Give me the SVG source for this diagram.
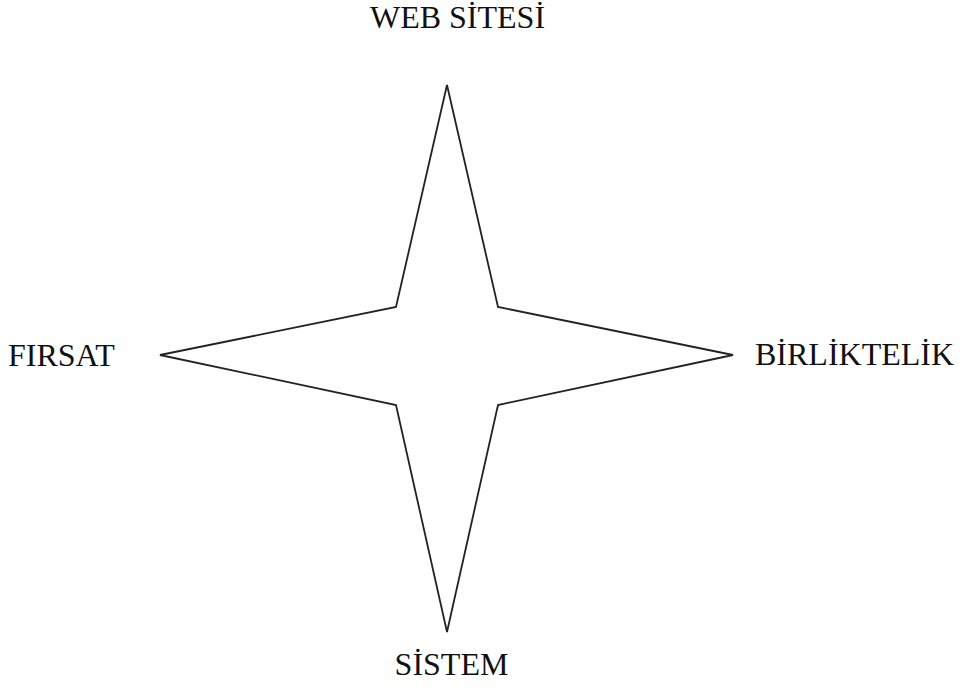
<svg xmlns="http://www.w3.org/2000/svg" width="960" height="688" viewBox="0 0 960 688">
<style>
.t{font-family:"Liberation Serif","Times New Roman",serif;font-size:32px;fill:#111}
.s{fill:#fff;stroke:#222;stroke-width:1.8;stroke-linejoin:miter}
</style>
<rect width="960" height="688" fill="#fff"/>
<g id="star">
<polygon class="s" points="447,85 498,307 733,355 498,405 447,632 396,405 160,355 396,307"/>
</g>
<g id="connectors"></g>
<g id="label-top"><text class="t" x="457.5" y="28" text-anchor="middle">WEB SİTESİ</text></g>
<g id="label-left"><text class="t" x="8" y="366">FIRSAT</text></g>
<g id="label-right"><text class="t" x="755" y="365">BİRLİKTELİK</text></g>
<g id="label-bottom"><text class="t" x="451.5" y="675" text-anchor="middle">SİSTEM</text></g>
</svg>
